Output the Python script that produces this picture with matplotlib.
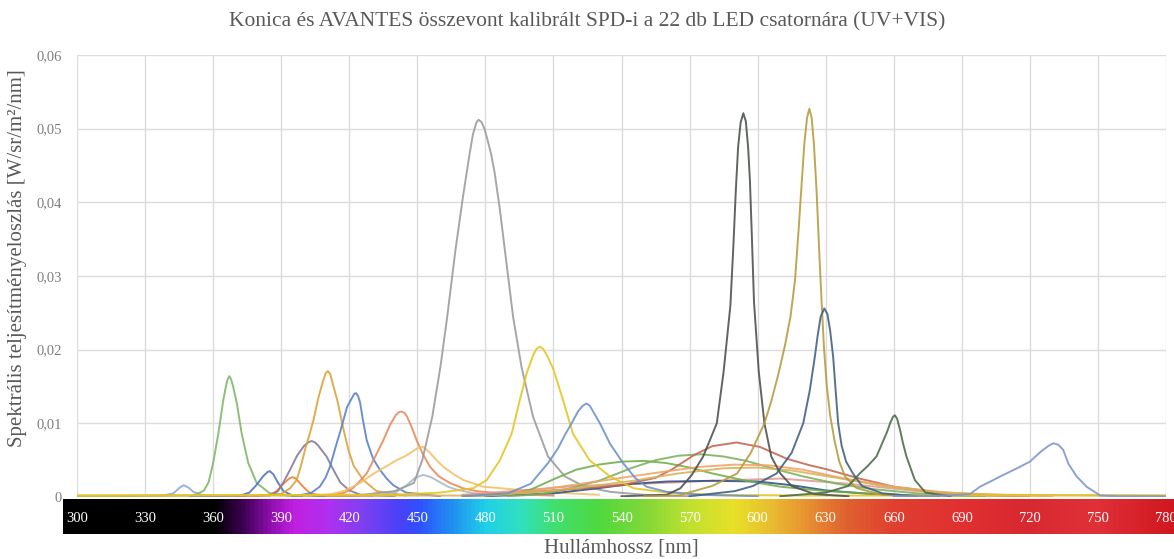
import numpy as np
import matplotlib
matplotlib.use("Agg")
import matplotlib.pyplot as plt
from matplotlib.colors import LinearSegmentedColormap

# Spectral power of the LED channels, read as (wavelength [nm], W/sr/m2/nm)
wl_uv367 = [300, 350, 353, 356, 358, 360, 362.3, 364.5, 365.5, 366.3, 367.1, 367.9, 368.8, 370.4, 372.6, 375.5, 379.2, 385, 395, 420]
spd_uv367 = [0.0001, 0.0002, 0.0004, 0.0009, 0.0020, 0.0046, 0.0086, 0.0132, 0.0148, 0.0159, 0.0164, 0.0160, 0.0150, 0.0128, 0.0086, 0.0046, 0.0019, 0.0005, 0.0001, 0.0001]

wl_uv347 = [320, 338, 342.5, 345, 347, 349, 351.3, 355, 362, 380]
spd_uv347 = [0.0001, 0.0002, 0.0005, 0.0012, 0.0016, 0.0013, 0.0007, 0.0003, 0.0001, 0.0001]

wl_b385 = [350, 372, 376, 379, 382, 384, 385, 386.5, 388.5, 391, 395, 410]
spd_b385 = [0.0001, 0.0002, 0.0006, 0.0016, 0.0028, 0.0034, 0.0035, 0.0031, 0.0020, 0.0008, 0.0002, 0.0001]

wl_o395 = [370, 385, 388, 391, 393.5, 395, 396.5, 399, 402, 404, 410, 430]
spd_o395 = [0.0001, 0.0003, 0.0008, 0.0018, 0.0025, 0.0027, 0.0025, 0.0016, 0.0007, 0.0004, 0.0002, 0.0001]

wl_v403 = [370, 385, 388.6, 391, 393.9, 397, 400, 401.8, 403.4, 405, 406.5, 410, 413, 416, 420, 425, 440]
spd_v403 = [0.0001, 0.0002, 0.0008, 0.0020, 0.0037, 0.0056, 0.0069, 0.0074, 0.0076, 0.0074, 0.0069, 0.0055, 0.0037, 0.0020, 0.0009, 0.0003, 0.0001]

wl_g410 = [375, 390, 394, 396.8, 398.5, 400.5, 402.5, 404.2, 406.5, 408.5, 409.6, 410.6, 411.6, 412.8, 415, 417, 419.6, 422, 426.2, 432, 445]
spd_g410 = [0.0001, 0.0004, 0.0012, 0.0023, 0.0040, 0.0064, 0.0085, 0.0104, 0.0136, 0.0158, 0.0168, 0.0171, 0.0167, 0.0153, 0.0128, 0.0098, 0.0064, 0.0042, 0.0023, 0.0008, 0.0002]

wl_b423 = [395, 403, 407, 409.5, 411.5, 414, 416.6, 419, 421.3, 422.2, 423, 423.9, 424.8, 426, 427.7, 430.5, 433.5, 436.5, 439.4, 445, 460]
spd_b423 = [0.0001, 0.0005, 0.0014, 0.0026, 0.0041, 0.0068, 0.0095, 0.0122, 0.0135, 0.0140, 0.0141, 0.0137, 0.0128, 0.0105, 0.0077, 0.0052, 0.0037, 0.0025, 0.0016, 0.0006, 0.0001]

wl_o442 = [410, 418, 421.6, 424.5, 427.7, 431, 435, 438, 440.5, 441.8, 443.1, 444.4, 445.5, 447.5, 449.7, 452.5, 455.6, 459.5, 464.4, 470, 476, 490, 510]
spd_o442 = [0.0001, 0.0006, 0.0012, 0.0021, 0.0032, 0.0052, 0.0077, 0.0098, 0.0111, 0.0115, 0.0116, 0.0114, 0.0109, 0.0095, 0.0077, 0.0058, 0.0041, 0.0028, 0.0019, 0.0012, 0.0008, 0.0004, 0.0002]

wl_y452 = [400, 412, 417.4, 421, 424.7, 428, 432, 436.5, 440.9, 445, 448, 450.5, 452.5, 455.6, 458.5, 461.5, 466, 470.3, 479, 493.7, 510, 530]
spd_y452 = [0.0001, 0.0004, 0.0008, 0.0013, 0.0019, 0.0026, 0.0034, 0.0042, 0.0050, 0.0056, 0.0062, 0.0067, 0.0068, 0.0060, 0.0050, 0.0041, 0.0031, 0.0023, 0.0014, 0.0010, 0.0006, 0.0003]

wl_lb452 = [425, 436, 441, 445.3, 449, 452.6, 456, 460, 463.5, 467.3, 475, 490]
spd_lb452 = [0.0001, 0.0004, 0.0007, 0.0016, 0.0026, 0.0030, 0.0027, 0.0020, 0.0014, 0.0010, 0.0005, 0.0002]

wl_c477 = [420, 440, 448.5, 452.2, 456.6, 460.2, 463.2, 466.8, 468.5, 470, 471.5, 473, 474.5, 476, 477, 478.3, 479.6, 481, 482.5, 484.1, 486.4, 488.6, 492.2, 495.9, 501, 507.6, 515, 523.8, 535, 550, 570]
spd_c477 = [0.0001, 0.0008, 0.0019, 0.0050, 0.0109, 0.0177, 0.0245, 0.0335, 0.0372, 0.0405, 0.0435, 0.0465, 0.0492, 0.0508, 0.0512, 0.0509, 0.0500, 0.0484, 0.0466, 0.0440, 0.0390, 0.0335, 0.0245, 0.0177, 0.0109, 0.0055, 0.0028, 0.0014, 0.0007, 0.0003, 0.0001]

wl_y504 = [300, 440, 460, 474.7, 480.6, 486.4, 491.6, 495.2, 498.2, 501, 502.5, 504, 505.5, 507, 509.8, 514.2, 518.6, 525.9, 534.9, 545.2, 560, 580, 620, 780]
spd_y504 = [0.0002, 0.0003, 0.0006, 0.0012, 0.0023, 0.0050, 0.0086, 0.0132, 0.0168, 0.0192, 0.0201, 0.0204, 0.0201, 0.0193, 0.0175, 0.0132, 0.0086, 0.0050, 0.0028, 0.0012, 0.0006, 0.0003, 0.0002, 0.0002]

wl_b525 = [470, 490, 500, 507.6, 512, 515, 518, 521, 523, 524.6, 526, 527.5, 530.5, 535, 540.7, 546, 551, 560, 575, 600]
spd_b525 = [0.0001, 0.0005, 0.0018, 0.0046, 0.0066, 0.0084, 0.0100, 0.0117, 0.0124, 0.0127, 0.0124, 0.0116, 0.0100, 0.0072, 0.0046, 0.0026, 0.0014, 0.0007, 0.0003, 0.0001]

wl_gr540 = [470, 490, 500, 510, 520, 530, 540, 550, 560, 570, 580, 595, 610, 630, 660, 700]
spd_gr540 = [0.0001, 0.0003, 0.0010, 0.0024, 0.0037, 0.0044, 0.0048, 0.0049, 0.0046, 0.0040, 0.0032, 0.0022, 0.0014, 0.0008, 0.0003, 0.0001]

wl_gr575 = [490, 505, 515, 530, 545, 555, 565, 575, 585, 595, 610, 620, 635, 650, 670, 700]
spd_gr575 = [0.0001, 0.0004, 0.0010, 0.0022, 0.0040, 0.0050, 0.0056, 0.0058, 0.0055, 0.0049, 0.0036, 0.0028, 0.0018, 0.0011, 0.0005, 0.0001]

wl_r590 = [470, 500, 520, 540, 555, 562, 572, 580, 590.7, 601, 612.8, 623, 630, 645, 660, 680, 700, 720]
spd_r590 = [0.0002, 0.0007, 0.0011, 0.0016, 0.0026, 0.0037, 0.0057, 0.0069, 0.0074, 0.0068, 0.0052, 0.0043, 0.0038, 0.0025, 0.0014, 0.0006, 0.0002, 0.0001]

wl_w1 = [470, 500, 520, 540, 560, 575, 590, 605, 620, 640, 660, 680, 700, 730]
spd_w1 = [0.0002, 0.0008, 0.0017, 0.0026, 0.0035, 0.0041, 0.0044, 0.0043, 0.0037, 0.0024, 0.0014, 0.0007, 0.0003, 0.0001]

wl_w2 = [300, 480, 500, 520, 545, 565, 585, 600, 615, 635, 655, 680, 710, 780]
spd_w2 = [0.0002, 0.0002, 0.0006, 0.0012, 0.0022, 0.0032, 0.0039, 0.0040, 0.0036, 0.0026, 0.0015, 0.0006, 0.0003, 0.0002]

wl_w3 = [470, 500, 520, 550, 580, 610, 640, 670, 700]
spd_w3 = [0.0003, 0.0010, 0.0015, 0.0018, 0.0022, 0.0025, 0.0018, 0.0008, 0.0003]

wl_n580 = [480, 510, 530, 545, 560, 580, 600, 615, 630, 650, 680]
spd_n580 = [0.0001, 0.0005, 0.0012, 0.0018, 0.0021, 0.0022, 0.0021, 0.0016, 0.0009, 0.0004, 0.0001]

wl_k594 = [540, 560, 566, 571, 576, 582, 585, 588, 589.3, 590.4, 591.4, 592.5, 593.7, 594.8, 595.8, 596.6, 597.5, 598.4, 600.5, 603, 606, 610, 615, 625, 640]
spd_k594 = [0.0001, 0.0003, 0.0012, 0.0030, 0.0055, 0.0100, 0.0170, 0.0260, 0.0340, 0.0417, 0.0475, 0.0508, 0.0521, 0.0510, 0.0475, 0.0430, 0.0350, 0.0265, 0.0170, 0.0100, 0.0055, 0.0032, 0.0015, 0.0004, 0.0001]

wl_a623 = [550, 565, 580, 591, 597, 603, 606, 609, 612, 614.5, 616.5, 618, 619.4, 620.6, 621.8, 622.8, 623.8, 624.8, 626, 627.2, 628.2, 629.3, 630.5, 632, 634, 636, 638.5, 643.6, 655, 670]
spd_a623 = [0.0001, 0.0002, 0.0015, 0.0032, 0.0060, 0.0100, 0.0130, 0.0165, 0.0205, 0.0245, 0.0295, 0.0360, 0.0425, 0.0480, 0.0515, 0.0527, 0.0515, 0.0480, 0.0415, 0.0330, 0.0265, 0.0200, 0.0150, 0.0110, 0.0075, 0.0048, 0.0028, 0.0012, 0.0003, 0.0001]

wl_t629 = [570, 590, 598, 608.4, 615, 620.1, 623, 625.2, 626.5, 627.8, 629.4, 630.8, 632, 633.3, 634.5, 635.5, 637, 639, 642, 646, 655, 670]
spd_t629 = [0.0001, 0.0008, 0.0015, 0.0032, 0.0060, 0.0100, 0.0145, 0.0190, 0.0220, 0.0245, 0.0256, 0.0248, 0.0225, 0.0190, 0.0140, 0.0100, 0.0070, 0.0048, 0.0032, 0.0015, 0.0005, 0.0001]

wl_d660 = [610, 630, 640, 645, 648.5, 652.4, 657, 658.5, 659.7, 660.5, 661.5, 662.7, 664, 665.6, 669.3, 674, 685]
spd_d660 = [0.0001, 0.0006, 0.0015, 0.0032, 0.0042, 0.0055, 0.0088, 0.0101, 0.0109, 0.0111, 0.0106, 0.0092, 0.0074, 0.0055, 0.0023, 0.0006, 0.0001]

wl_l730 = [660, 685, 693.6, 698, 702, 707, 711, 715, 720, 725, 728, 730.3, 732.5, 734.7, 737, 740.6, 745, 751, 760, 780]
spd_l730 = [0.0001, 0.0002, 0.0004, 0.0014, 0.0020, 0.0028, 0.0034, 0.0040, 0.0048, 0.0062, 0.0069, 0.0073, 0.0071, 0.0064, 0.0045, 0.0028, 0.0014, 0.0002, 0.0001, 0.0001]

# Axis ticks and texts
x_ticks = list(range(300, 781, 30))
y_ticks = [0, 0.01, 0.02, 0.03, 0.04, 0.05, 0.06]
title = "Konica és AVANTES összevont kalibrált SPD-i a 22 db LED csatornára (UV+VIS)"
x_title = "Hullámhossz [nm]"
y_title = "Spektrális teljesítményeloszlás [W/sr/m²/nm]"

# Colour stops of the visible spectrum strip under the plot
strip_nm = [293.8, 360, 372, 385, 395, 410, 425, 440, 450, 465, 480, 495, 510, 530, 550,
            570, 590, 605, 620, 640, 660, 690, 720, 750, 783.5]
strip_col = ["#000000", "#000000", "#3a0050", "#9010b0", "#c020e0", "#b030f0", "#8040f0",
             "#5040f8", "#3050ff", "#2090f0", "#20d0e8", "#30e0c0", "#40e070", "#50d840",
             "#80d838", "#c0e030", "#e8e028", "#e8c030", "#e89830", "#e06030", "#e04030",
             "#e03030", "#d82830", "#e03038", "#d01820"]

series = [
    (wl_uv347, spd_uv347, "#8fa8d8"),
    (wl_uv367, spd_uv367, "#7fb567"),
    (wl_b385, spd_b385, "#4a72c4"),
    (wl_o395, spd_o395, "#ed7d31"),
    (wl_v403, spd_v403, "#85789a"),
    (wl_g410, spd_g410, "#dba236"),
    (wl_b423, spd_b423, "#5a7fc8"),
    (wl_o442, spd_o442, "#e8875a"),
    (wl_y452, spd_y452, "#f2c067"),
    (wl_lb452, spd_lb452, "#a9b8cc"),
    (wl_c477, spd_c477, "#9a9a9a"),
    (wl_w3, spd_w3, "#e49a9a"),
    (wl_n580, spd_n580, "#2f4f86"),
    (wl_gr540, spd_gr540, "#70ad47"),
    (wl_gr575, spd_gr575, "#79b25a"),
    (wl_r590, spd_r590, "#c4654e"),
    (wl_w1, spd_w1, "#f1a265"),
    (wl_w2, spd_w2, "#d8b25a"),
    (wl_y504, spd_y504, "#e6c41f"),
    (wl_b525, spd_b525, "#6a92c8"),
    (wl_k594, spd_k594, "#4a504a"),
    (wl_a623, spd_a623, "#b59a3c"),
    (wl_t629, spd_t629, "#3f5f80"),
    (wl_d660, spd_d660, "#4a6a46"),
    (wl_l730, spd_l730, "#7d95cc"),
]

serif = ["Liberation Serif", "DejaVu Serif"]
W, H = 1174, 559
fig = plt.figure(figsize=(W / 100, H / 100), dpi=100)

ax = fig.add_axes([77 / W, 62 / H, 1089 / W, 442 / H])
for wl, spd, col in series:
    ax.plot(wl, spd, color=col, lw=1.4, alpha=0.88, solid_joinstyle="round")

ax.set_xlim(300, 780)
ax.set_ylim(0, 0.06)
ax.set_xticks(x_ticks)
ax.set_yticks(y_ticks)
ax.set_yticklabels(["0" if v == 0 else f"{v:.2f}".replace(".", ",") for v in y_ticks],
                   fontfamily=serif, fontsize=10.5, color="#7f7f7f")
ax.tick_params(length=0, labelbottom=False, pad=11)
ax.grid(color="#dcdcdc", lw=1)
ax.set_axisbelow(True)
for s in ax.spines.values():
    s.set_visible(False)

# spectrum strip with the wavelength labels on it
bax = fig.add_axes([63 / W, 25 / H, 1111 / W, 35 / H])
lo, hi = strip_nm[0], strip_nm[-1]
cmap = LinearSegmentedColormap.from_list(
    "spectrum", [((n - lo) / (hi - lo), c) for n, c in zip(strip_nm, strip_col)])
grad = np.linspace(lo, hi, 1200)[np.newaxis, :]
bax.imshow(grad, aspect="auto", cmap=cmap, extent=(lo, hi, 0, 1), vmin=lo, vmax=hi)
bax.set_xlim(lo, hi)
bax.set_ylim(0, 1)
bax.axis("off")
for t in x_ticks:
    bax.text(t, 0.45, str(t), color="white", ha="center", va="center",
             fontsize=10.5, fontfamily=serif)

fig.text(0.5, 1 - 22 / H, title, ha="center", va="center", fontsize=15.5,
         color="#595959", fontfamily=serif)
fig.text(621 / W, 1 - 548 / H, x_title, ha="center", va="center", fontsize=15,
         color="#595959", fontfamily=serif)
fig.text(18 / W, 1 - 258 / H, y_title, ha="center", va="center", rotation=90,
         fontsize=15, color="#595959", fontfamily=serif)

fig.savefig("out.png", dpi=100)
